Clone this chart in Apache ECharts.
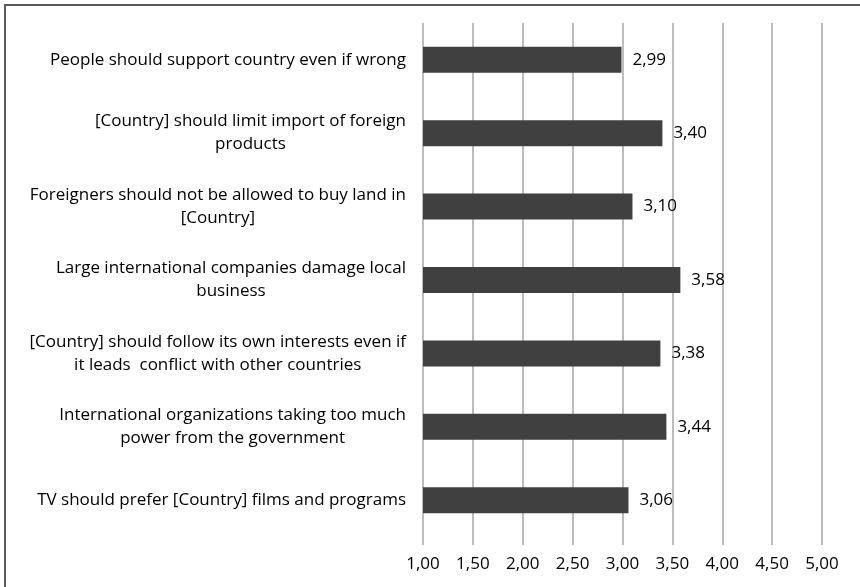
<!DOCTYPE html>
<html>
<head>
<meta charset="utf-8">
<script src="https://cdn.jsdelivr.net/npm/echarts@6/dist/echarts.min.js"></script>
<style>
  html, body { margin: 0; padding: 0; background: #fff; }
  #chart { width: 860px; height: 587px; }
</style>
</head>
<body>
<div id="chart"></div>
<script>
// Statements (top to bottom) and their mean scores
const categories = [
  'People should support country even if wrong',
  '[Country] should limit import of foreign\nproducts',
  'Foreigners should not be allowed to buy land in\n[Country]',
  'Large international companies damage local\nbusiness',
  '[Country] should follow its own interests even if\nit leads  conflict with other countries',
  'International organizations taking too much\npower from the government',
  'TV should prefer [Country] films and programs'
];
const meanScores = [2.99, 3.40, 3.10, 3.58, 3.38, 3.44, 3.06];
const axisMin = 1.0;
const axisMax = 5.0;
const axisStep = 0.5;

const fmt = v => v.toFixed(2).replace('.', ',');
const FONT = '"Open Sans", "Liberation Sans", sans-serif';

// Wrapped labels: each line centred within its block, block right-aligned to the axis
const centredLines = s => s.split('\n').map(l => '{c|' + l + '}').join('\n');

const chart = echarts.init(document.getElementById('chart'), null, { renderer: 'canvas' });
chart.setOption({
  backgroundColor: '#ffffff',
  animation: false,
  graphic: [{
    type: 'rect',
    shape: { x: 5, y: 5, width: 1000, height: 800 },
    style: { fill: 'none', stroke: '#5a5a5a', lineWidth: 2 },
    silent: true,
    z: 100
  }],
  grid: { left: 423, right: 38, top: 23, bottom: 50, containLabel: false },
  xAxis: {
    type: 'value',
    min: axisMin,
    max: axisMax,
    interval: axisStep,
    axisLine: { show: false },
    axisTick: { show: true, length: 8, lineStyle: { color: '#a6a6a6', width: 1.5 } },
    splitLine: { show: true, lineStyle: { color: '#a6a6a6', width: 1.5 } },
    axisLabel: {
      formatter: fmt,
      color: '#000',
      fontFamily: FONT,
      fontSize: 17,
      margin: 19
    }
  },
  yAxis: {
    type: 'category',
    data: categories,
    inverse: true,
    axisLine: { show: false },
    axisTick: { show: false },
    axisLabel: {
      formatter: centredLines,
      color: '#000',
      fontFamily: FONT,
      fontSize: 17,
      lineHeight: 23,
      margin: 17,
      align: 'right',
      rich: {
        c: {
          align: 'center',
          color: '#000',
          fontFamily: FONT,
          fontSize: 17,
          lineHeight: 23
        }
      }
    }
  },
  series: [{
    type: 'bar',
    data: meanScores,
    barWidth: 26,
    itemStyle: { color: '#404040' },
    label: {
      show: true,
      position: 'right',
      distance: 11,
      formatter: p => fmt(p.value),
      color: '#000',
      fontFamily: FONT,
      fontSize: 17
    }
  }]
});
</script>
</body>
</html>
